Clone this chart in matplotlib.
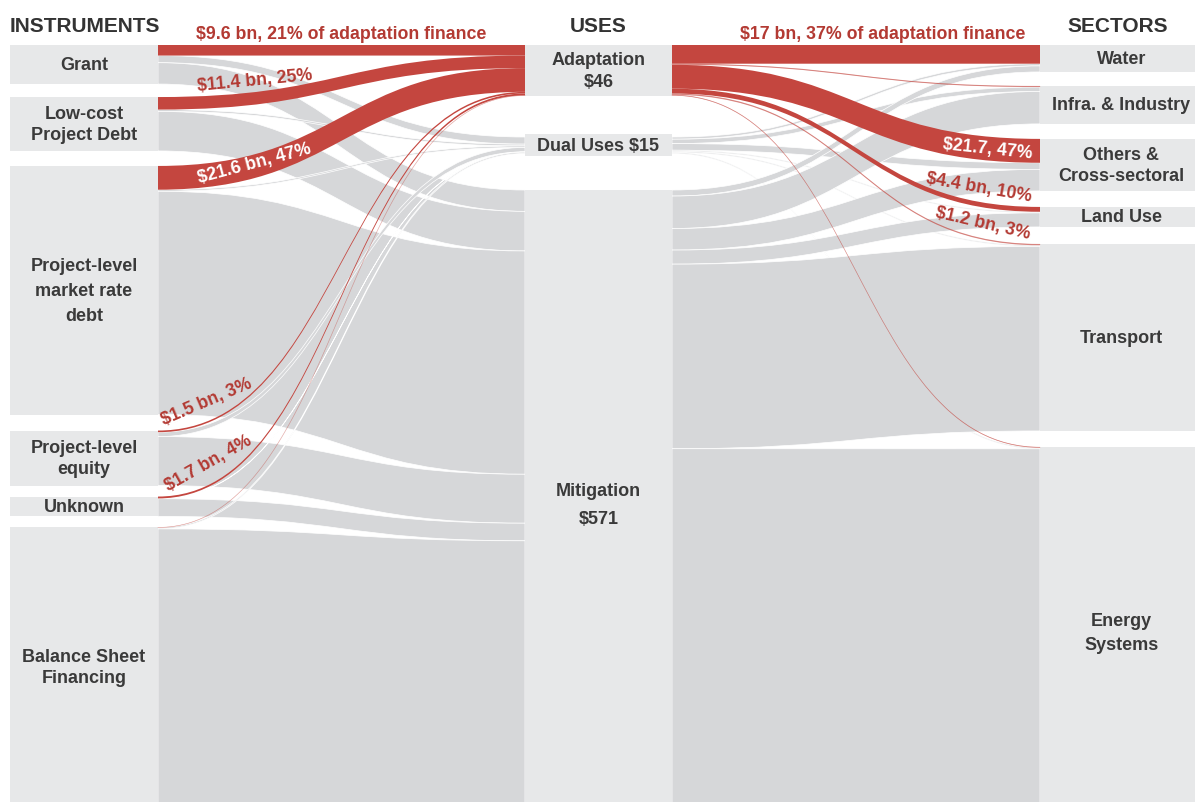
import numpy as np
import matplotlib
matplotlib.use("Agg")
import matplotlib.pyplot as plt
from matplotlib.path import Path
from matplotlib.patches import PathPatch, Rectangle
from matplotlib import font_manager


instruments = ["Grant", "Low-cost\nProject Debt", "Project-level\nmarket rate\ndebt",
               "Project-level\nequity", "Unknown", "Balance Sheet\nFinancing"]
uses = ["Adaptation\n$46", "Dual Uses $15", "Mitigation\n$571"]
sectors = ["Water", "Infra. & Industry", "Others &\nCross-sectoral", "Land Use",
           "Transport", "Energy\nSystems"]

# USD bn flowing from each instrument into each use
to_adaptation = [9.6, 11.4, 21.6, 1.5, 1.7, 0.2]
to_dual = [6.5, 1.6, 1.4, 4.0, 0.3, 1.2]
to_mitigation = [19.4, 36.0, 203.0, 44.5, 16.0, 252.1]

# USD bn flowing from each use into each sector
from_adaptation = [17.0, 1.0, 21.7, 4.4, 1.2, 0.7]
from_dual = [2.0, 4.0, 6.0, 1.0, 1.0, 1.0]
from_mitigation = [5.5, 29.5, 19.6, 12.8, 167.8, 335.8]

ADAPTATION_TOTAL = 46.0

# labelled adaptation links: (node index, format, placement, distance from node)
left_labels = [
    (0, "${v:g} bn, {p:.0f}% of adaptation finance", "flat", 0),
    (1, "${v:g} bn, {p:.0f}%", "above", 40),
    (2, "${v:g} bn, {p:.0f}%", "inside", 40),
    (3, "${v:g} bn, {p:.0f}%", "above", 7),
    (4, "${v:g} bn, {p:.0f}%", "above", 12),
]
right_labels = [
    (0, "${v:g} bn, {p:.0f}% of adaptation finance", "flat", 15),
    (2, "${v:g}, {p:.0f}%", "inside", 8),
    (3, "${v:g} bn, {p:.0f}%", "above", 10),
    (4, "${v:g} bn, {p:.0f}%", "above", 12),
]

# layout, in output pixels
SCALE = 1.1
TOP = 46
LEFT_X = (10, 158)
MID_X = (525, 672)
RIGHT_X = (1040, 1203)
left_gaps = [13, 15, 16, 11, 11]
mid_gaps = [41.4, 36.5]
right_gaps = [14, 15, 16, 17, 16]

GREY_LINK = "#d6d7d9"
NODE = "#e7e8e9"
RED = "#c4463f"
RED_TEXT = "#b33a33"
DARK = "#3a3a3a"
NODE_FS = 13
LINK_FS = 12.8

available = {f.name for f in font_manager.fontManager.ttflist}
NARROW = "Liberation Sans Narrow" if "Liberation Sans Narrow" in available else "Liberation Sans"
plt.rcParams["font.family"] = [NARROW, "DejaVu Sans"]


def stack(values, gaps):
    tops = []
    y = TOP
    for i, v in enumerate(values):
        tops.append(y)
        y += v * SCALE + (gaps[i] if i < len(gaps) else 0)
    return tops


def bezier(x0, x1, y0, y1, n=400):
    t = np.linspace(0, 1, n)
    xm = (x0 + x1) / 2
    x = (1 - t) ** 3 * x0 + 3 * (1 - t) ** 2 * t * xm + 3 * (1 - t) * t ** 2 * xm + t ** 3 * x1
    y = y0 + (y1 - y0) * (3 * t ** 2 - 2 * t ** 3)
    return x, y


def on_curve(x0, x1, y0, y1, xq):
    x, y = bezier(x0, x1, y0, y1)
    slope = np.gradient(y, x)
    return np.interp(xq, x, y), -np.degrees(np.arctan(np.interp(xq, x, slope)))


def draw_band(ax, x0, x1, s_top, t_top, h, color, z, edge):
    xm = (x0 + x1) / 2
    verts = [(x0, s_top), (xm, s_top), (xm, t_top), (x1, t_top),
             (x1, t_top + h), (xm, t_top + h), (xm, s_top + h), (x0, s_top + h),
             (x0, s_top)]
    codes = [Path.MOVETO, Path.CURVE4, Path.CURVE4, Path.CURVE4,
             Path.LINETO, Path.CURVE4, Path.CURVE4, Path.CURVE4, Path.CLOSEPOLY]
    thin = edge == "none" and h < 1.5
    ax.add_patch(PathPatch(Path(verts, codes), facecolor=color,
                           edgecolor=edge, lw=0.5 if edge != "none" else 0,
                           alpha=0.55 if thin else 1, zorder=z))
    if thin:
        bx, by = bezier(x0, x1, s_top + h / 2, t_top + h / 2)
        ax.plot(bx, by, color=color, lw=0.5, alpha=0.35, zorder=z)


def draw_links(ax, flows, src_tops, tgt_tops, xs, xt, red_src=None, red_tgt=None):
    flows = np.asarray(flows)
    geo = {}
    for i in range(flows.shape[0]):
        for j in range(flows.shape[1]):
            v = flows[i, j]
            s_top = src_tops[i] + SCALE * flows[i, :j].sum()
            t_top = tgt_tops[j] + SCALE * flows[:i, j].sum()
            geo[(i, j)] = (s_top, t_top, v * SCALE)
    for red_pass in (False, True):
        for (i, j), (s_top, t_top, h) in geo.items():
            is_red = i == red_src or j == red_tgt
            if is_red != red_pass:
                continue
            if is_red:
                draw_band(ax, xs, xt, s_top, t_top, h, RED, 3, "none")
            else:
                draw_band(ax, xs, xt, s_top, t_top, h, GREY_LINK, 1, "white")
    return geo


def draw_nodes(ax, names, values, tops, xr, min_h=0, spacing=None):
    spacing = spacing or {}
    for name, v, top in zip(names, values, tops):
        h = v * SCALE
        box_h = max(h, min_h)
        box_top = top + h / 2 - box_h / 2
        ax.add_patch(Rectangle((xr[0], box_top), xr[1] - xr[0], box_h,
                               facecolor=NODE, edgecolor="none", zorder=2))
        ax.text((xr[0] + xr[1]) / 2, box_top + box_h / 2, name, ha="center",
                va="center", fontsize=NODE_FS, fontweight="bold", color=DARK,
                linespacing=spacing.get(name, 1.35), zorder=5)


fig = plt.figure(figsize=(11.95, 8.03), dpi=100)
ax = fig.add_axes([0, 0, 1, 1])
ax.set_xlim(0, 1195)
ax.set_ylim(803, 0)
ax.axis("off")

left_flows = np.column_stack([to_adaptation, to_dual, to_mitigation])
right_flows = np.vstack([from_adaptation, from_dual, from_mitigation])
inst_values = left_flows.sum(axis=1)
use_values = left_flows.sum(axis=0)
sector_values = right_flows.sum(axis=0)

inst_tops = stack(inst_values, left_gaps)
use_tops = stack(use_values, mid_gaps)
sector_tops = stack(sector_values, right_gaps)

left_geo = draw_links(ax, left_flows, inst_tops, use_tops, LEFT_X[1], MID_X[0], red_tgt=0)
right_geo = draw_links(ax, right_flows, use_tops, sector_tops, MID_X[1], RIGHT_X[0], red_src=0)

draw_nodes(ax, instruments, inst_values, inst_tops, LEFT_X,
           spacing={"Project-level\nmarket rate\ndebt": 1.6})
draw_nodes(ax, uses, use_values, use_tops, MID_X, min_h=22,
           spacing={"Mitigation\n$571": 1.85})
draw_nodes(ax, sectors, sector_values, sector_tops, RIGHT_X,
           spacing={"Energy\nSystems": 1.5})

# adaptation link labels on the instrument side
for i, fmt, kind, dist in left_labels:
    v = to_adaptation[i]
    txt = fmt.format(v=v, p=v / ADAPTATION_TOTAL * 100)
    s_top, t_top, h = left_geo[(i, 0)]
    x0, x1 = LEFT_X[1], MID_X[0]
    if kind == "flat":
        ax.text((x0 + x1) / 2, s_top - 3, txt, ha="center", va="bottom",
                fontsize=LINK_FS, fontweight="bold", color=RED_TEXT, zorder=6)
        continue
    xa = x0 + dist
    if kind == "inside":
        ya, _ = on_curve(x0, x1, s_top + h / 2, t_top + h / 2, xa)
        _, ang = on_curve(x0, x1, s_top + h / 2, t_top + h / 2, xa + 55)
        ax.text(xa, ya, txt, ha="left", va="center_baseline", rotation=ang,
                rotation_mode="anchor", fontsize=LINK_FS, fontweight="bold",
                color="white", zorder=6)
    else:
        ya, _ = on_curve(x0, x1, s_top, t_top, xa)
        _, ang = on_curve(x0, x1, s_top, t_top, xa + 45)
        ax.text(xa, ya - 2, txt, ha="left", va="bottom", rotation=ang,
                rotation_mode="anchor", fontsize=LINK_FS, fontweight="bold",
                color=RED_TEXT, zorder=6)

# adaptation link labels on the sector side
for k, fmt, kind, dist in right_labels:
    v = from_adaptation[k]
    txt = fmt.format(v=v, p=v / ADAPTATION_TOTAL * 100)
    s_top, t_top, h = right_geo[(0, k)]
    x0, x1 = MID_X[1], RIGHT_X[0]
    xa = x1 - dist
    if kind == "flat":
        ax.text(xa, t_top - 3, txt, ha="right", va="bottom",
                fontsize=LINK_FS, fontweight="bold", color=RED_TEXT, zorder=6)
    elif kind == "inside":
        ya, _ = on_curve(x0, x1, s_top + h / 2, t_top + h / 2, xa)
        _, ang = on_curve(x0, x1, s_top + h / 2, t_top + h / 2, xa - 50)
        ax.text(xa, ya, txt, ha="right", va="center_baseline", rotation=ang,
                rotation_mode="anchor", fontsize=LINK_FS, fontweight="bold",
                color="white", zorder=6)
    else:
        ya, _ = on_curve(x0, x1, s_top, t_top, xa)
        _, ang = on_curve(x0, x1, s_top, t_top, xa - 50)
        ax.text(xa, ya - 2, txt, ha="right", va="bottom", rotation=ang,
                rotation_mode="anchor", fontsize=LINK_FS, fontweight="bold",
                color=RED_TEXT, zorder=6)

# column headings
head = dict(fontsize=15, fontweight="bold", color="#333333", va="center",
            family=["Liberation Sans", "DejaVu Sans"])
ax.text(LEFT_X[0], 26, "INSTRUMENTS", ha="left", **head)
ax.text(sum(MID_X) / 2, 26, "USES", ha="center", **head)
ax.text(1168, 26, "SECTORS", ha="right", **head)

fig.savefig("out.png", dpi=100, facecolor="white")
